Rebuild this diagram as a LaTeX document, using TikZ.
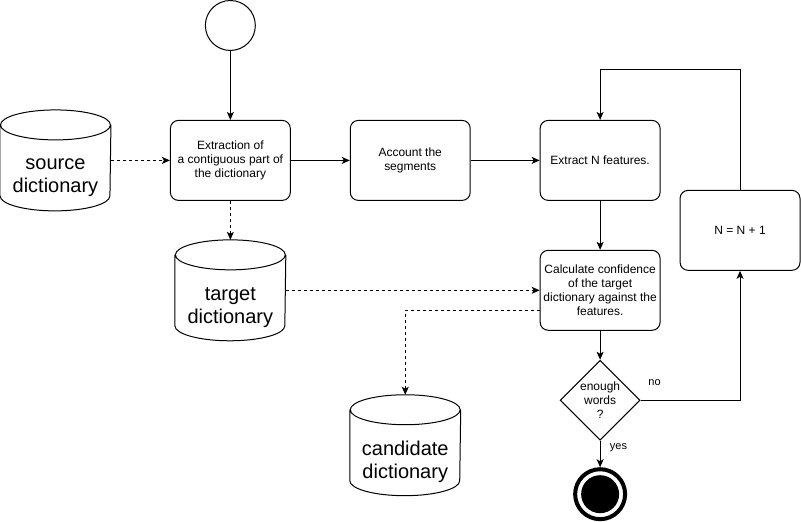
\documentclass[tikz,border=0pt]{standalone}
\usepackage{fontspec}
\setmainfont{Liberation Sans}
\usetikzlibrary{arrows.meta,shapes.geometric}

\begin{document}
\begin{tikzpicture}[x=1pt, y=-1pt, line width=1pt,
    every node/.style={font=\fontsize{12}{14}\selectfont, align=center},
    box/.style={draw, rounded corners=8, minimum width=120, minimum height=80, inner sep=2},
    db/.style={minimum width=110, minimum height=100, inner sep=0},
    dbtext/.style={font=\fontsize{20}{23}\selectfont, yshift=-17},
    ini/.style={circle, draw, minimum size=50, inner sep=0},
    fin/.style={circle, draw, line width=4, fill=white, minimum size=50, inner sep=0,
        path picture={\fill[black] (path picture bounding box.center) circle (19pt);}},
    dec/.style={diamond, draw, minimum width=80, minimum height=80, inner sep=0},
    flow/.style={-{Stealth[length=8pt, width=7pt, inset=2pt]}},
    tag/.style={font=\fontsize{11}{13}\selectfont}]
    \useasboundingbox (-0.5,-0.5) rectangle (801,521);

    \node[ini] (start) at (230,25) {};
    \node[box] (extr) at (230,160) {Extraction of\\a contiguous part of\\the dictionary};
    \node[box] (acc) at (410,160) {Account the\\segments};
    \node[box] (feat) at (600,160) {Extract N features.};
    \node[box] (inc) at (740,230) {N = N + 1};
    \node[box] (conf) at (600,290) {Calculate confidence\\of the target\\dictionary against the\\features.};
    \node[dec] (enough) at (600,400) {enough\\words\\?};
    \node[fin] (stop) at (600,494) {};

    \node[db, label={[dbtext]center:source\\dictionary}] (src) at (55,160) {};
    \node[db, label={[dbtext]center:target\\dictionary}] (tgt) at (230,290) {};
    \node[db, label={[dbtext]center:candidate\\dictionary}] (cand) at (405,445) {};

    % cylinders
    \foreach \n in {src,tgt,cand} {
        \draw ([yshift=-15]\n.north west) -- ([yshift=15]\n.south west)
            arc[start angle=180, end angle=360, x radius=55pt, y radius=15pt]
            -- ([yshift=-15]\n.north east)
            ([yshift=-15]\n.north) ellipse[x radius=55pt, y radius=15pt];
    }

    \draw[flow] (start) -- (extr);
    \draw[flow, dashed] (src) -- (extr);
    \draw[flow] (extr) -- (acc);
    \draw[flow] (acc) -- (feat);
    \draw[flow, dashed] (extr) -- (tgt);
    \draw[flow, dashed] (tgt) -- (conf);
    \draw[flow, dashed] ([yshift=-20]conf.west) -| (cand);
    \draw[flow] (feat) -- (conf);
    \draw[flow] (conf) -- (enough);
    \draw[flow] (enough) -- node[tag, right, pos=0.25, xshift=6] {yes} (stop);
    \draw[flow] (enough.east) -| node[tag, above, pos=0.07, yshift=11] {no} (inc.south);
    \draw[flow] (inc.north) -- ++(0,-120) -| (feat.north);
\end{tikzpicture}
\end{document}
